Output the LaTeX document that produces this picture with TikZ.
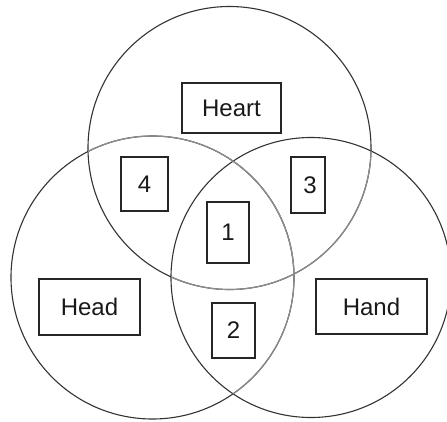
\documentclass[tikz,border=0pt]{standalone}
\usepackage{fontspec}
\setmainfont{Liberation Sans}
\begin{document}
\begin{tikzpicture}[x=1pt,y=-1pt,
  ring/.style={draw=black!80,line width=1.1pt},
  faint/.style={draw=black!45,line width=1.2pt},
  lbl/.style={draw=black!85,line width=1.2pt,inner sep=0pt,font=\fontsize{24}{28}\selectfont,text=black!90}]
\useasboundingbox (0,0) rectangle (447,421);
\coordinate (cT) at (229.5,148);
\coordinate (cL) at (152.5,277.5);
\coordinate (cR) at (311,277.5);
\draw[ring] (cT) circle[radius=141.5pt];
\draw[ring] (cR) circle[radius=140pt];
\draw[ring] (cL) circle[radius=141.5pt];
\begin{scope}
  \clip (cT) circle[radius=141.5pt];
  \draw[faint] (cL) circle[radius=141.5pt];
\end{scope}
\begin{scope}
  \clip (cR) circle[radius=140pt];
  \draw[faint] (cL) circle[radius=141.5pt];
  \draw[faint] (cT) circle[radius=141.5pt];
\end{scope}
\node[lbl,minimum width=99pt,minimum height=50pt] (heart) at (231.5,108) {Heart};
\node[lbl,minimum width=47pt,minimum height=54pt] (four) at (144.5,184) {4};
\node[lbl,minimum width=34pt,minimum height=56pt] (three) at (308,185) {\hspace{4pt}3};
\node[lbl,minimum width=42pt,minimum height=61pt] (one) at (228,232.5) {1};
\node[lbl,minimum width=101pt,minimum height=56pt] (head) at (89.5,307) {Head};
\node[lbl,minimum width=111pt,minimum height=55pt] (hand) at (371.5,306.5) {Hand};
\node[lbl,minimum width=43pt,minimum height=55pt] (two) at (233.5,330.5) {2};
\end{tikzpicture}
\end{document}
